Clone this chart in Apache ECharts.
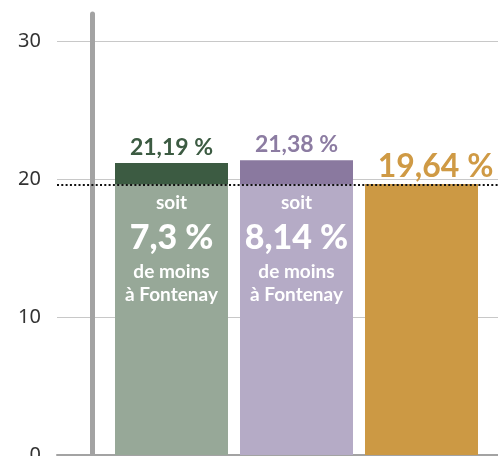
<!DOCTYPE html>
<html>
<head>
<meta charset="utf-8">
<script src="https://cdn.jsdelivr.net/npm/echarts@6/dist/echarts.min.js"></script>
<style>
  html, body { margin: 0; padding: 0; background: #fff; }
  #chart { width: 498px; height: 456px; }
</style>
</head>
<body>
<div id="chart"></div>
<script>
// données
const categories = ['Référence 1', 'Référence 2', 'Fontenay'];
const values = [21.19, 21.38, 19.64];       // taux (%)
const fontenayValue = 19.64;                // ligne pointillée
const ecarts = ['7,3 %', '8,14 %', null];   // texte dans les barres
const yTicks = [0, 10, 20, 30];

// couleurs
const darkColors = ['#3c5b42', '#8a799f', '#cc9944'];
const lightColors = ['#97a898', '#b5abc6', '#cc9944'];
const labelColors = ['#3c5b42', '#8c7ca2', '#cf9a45'];

const chart = echarts.init(document.getElementById('chart'));

const fmt = v => v.toFixed(2).replace('.', ',') + ' %';

const option = {
  animation: false,
  grid: [
    // grille de fond : lignes, axe gris, pointillés
    {left: 57, right: 0, top: 14, bottom: 1, outerBoundsMode: 'none', containLabel: false},
    // grille des barres
    {left: 109, right: 14, top: 14, bottom: 1, outerBoundsMode: 'none', containLabel: false}
  ],
  xAxis: [
    {
      gridIndex: 0, type: 'category', data: [''],
      axisLine: {show: true, lineStyle: {color: '#a3a3a3', width: 2}},
      axisTick: {show: false}, axisLabel: {show: false}
    },
    {
      gridIndex: 1, type: 'category', data: categories,
      axisLine: {show: false}, axisTick: {show: false}, axisLabel: {show: false}
    }
  ],
  yAxis: [
    {
      gridIndex: 0, type: 'value', min: 0, max: 32, interval: 10,
      offset: -35, // trait vertical épais décalé vers la droite
      axisLine: {show: true, lineStyle: {color: '#a3a3a3', width: 5}},
      axisTick: {show: false},
      axisLabel: {
        margin: 51,
        color: '#333',
        fontFamily: 'Noto Sans',
        fontSize: 20,
        formatter: v => (yTicks.indexOf(v) >= 0 ? String(v) : '')
      },
      splitLine: {
        show: true,
        lineStyle: {color: ['#c8c8c8', '#c8c8c8', '#c8c8c8', '#c8c8c8', 'rgba(0,0,0,0)'], width: 1}
      }
    },
    {
      gridIndex: 1, type: 'value', min: 0, max: 32,
      axisLine: {show: false}, axisTick: {show: false},
      axisLabel: {show: false}, splitLine: {show: false}
    }
  ],
  series: [
    // ligne pointillée au niveau de Fontenay
    {
      type: 'line', xAxisIndex: 0, yAxisIndex: 0, data: [],
      markLine: {
        silent: true, symbol: 'none', z: 20,
        label: {show: false},
        lineStyle: {color: '#111', type: [2, 2.3], width: 2},
        data: [{yAxis: fontenayValue}]
      }
    },
    // barre totale (partie foncée en haut)
    {
      type: 'bar', xAxisIndex: 1, yAxisIndex: 1,
      barWidth: 113,
      z: 2,
      data: values.map((v, i) => ({
        value: v,
        itemStyle: {color: darkColors[i]},
        label: i === 2
          ? {fontSize: 32, color: labelColors[i], distance: 2, offset: [14, 0]}
          : {fontSize: 23, color: labelColors[i], distance: 4}
      })),
      label: {
        show: true,
        position: 'top',
        fontFamily: 'Lato',
        fontWeight: 'bold',
        formatter: p => fmt(p.value)
      }
    },
    // partie claire jusqu'au niveau de Fontenay
    {
      type: 'bar', xAxisIndex: 1, yAxisIndex: 1,
      barWidth: 113, barGap: '-100%',
      z: 3,
      data: values.map((v, i) => ({
        value: Math.min(v, fontenayValue),
        itemStyle: {color: lightColors[i]},
        label: {show: ecarts[i] !== null}
      })),
      label: {
        position: 'insideTop',
        distance: 6,
        color: '#fff',
        fontFamily: 'Lato',
        fontWeight: 'bold',
        formatter: p => ecarts[p.dataIndex]
          ? '{a|soit}\n{b|' + ecarts[p.dataIndex] + '}\n{c|de moins}\n{c|à Fontenay}'
          : '',
        rich: {
          a: {fontSize: 19, lineHeight: 25, color: '#fff', fontFamily: 'Lato', fontWeight: 'bold'},
          b: {fontSize: 34, lineHeight: 45, color: '#fff', fontFamily: 'Lato', fontWeight: 900},
          c: {fontSize: 19, lineHeight: 23, color: '#fff', fontFamily: 'Lato', fontWeight: 'bold'}
        }
      }
    }
  ]
};

chart.setOption(option);
</script>
</body>
</html>
